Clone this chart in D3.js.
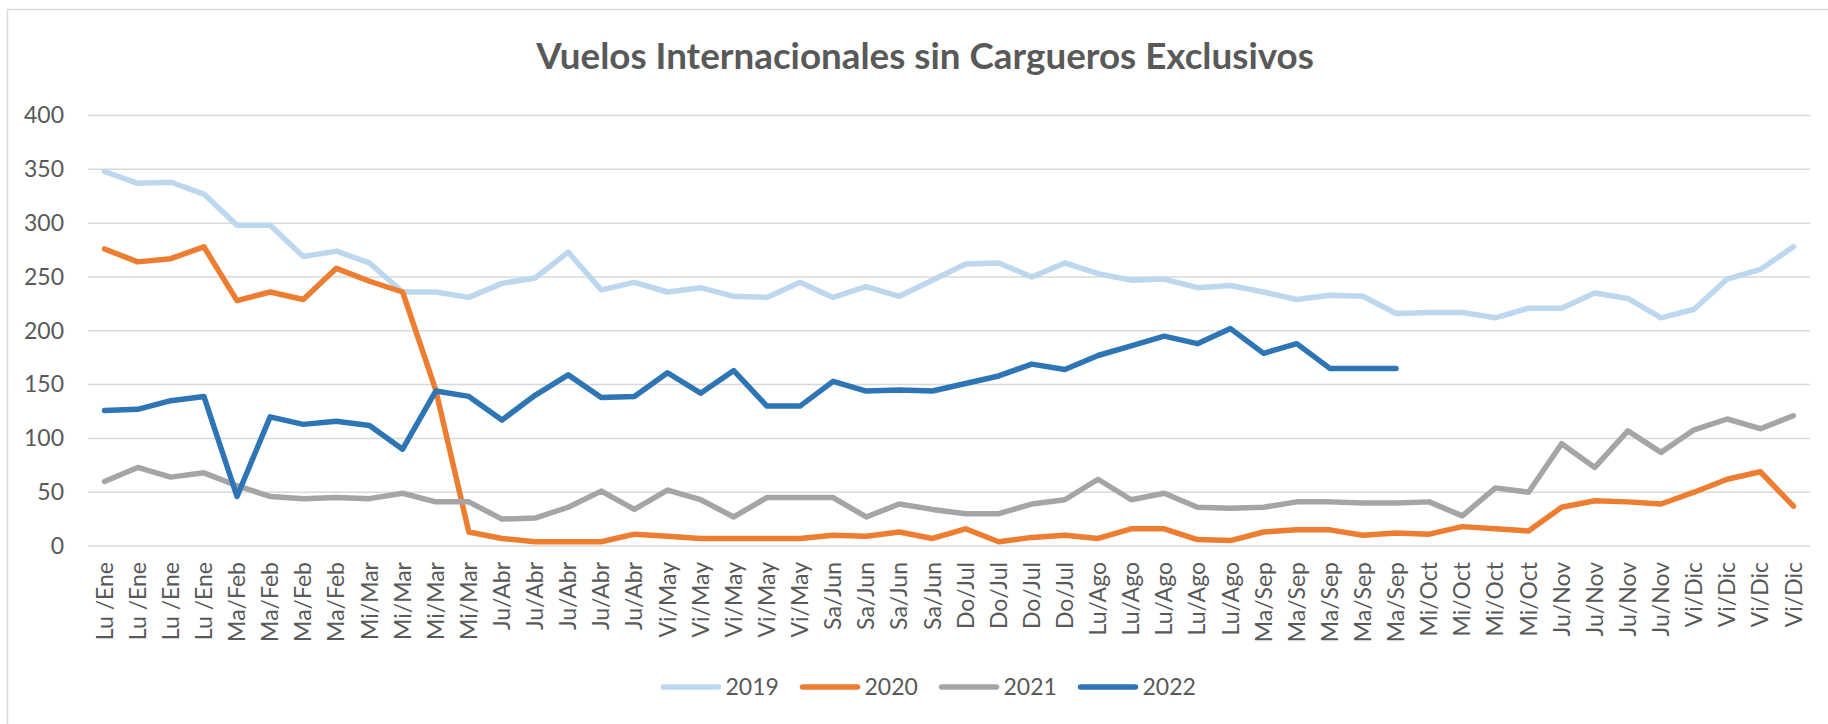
<!DOCTYPE html>
<html>
<head>
<meta charset="utf-8">
<script src="https://cdn.jsdelivr.net/npm/d3@7"></script>
<style>
  html, body { margin: 0; padding: 0; background: #fff; }
  svg { display: block; font-family: Lato, "Open Sans", sans-serif; }
</style>
</head>
<body>
<div id="chart"></div>
<script>
// Etiquetas semanales del eje X
const labels = [
  "Lu /Ene","Lu /Ene","Lu /Ene","Lu /Ene",
  "Ma/Feb","Ma/Feb","Ma/Feb","Ma/Feb",
  "Mi/Mar","Mi/Mar","Mi/Mar","Mi/Mar",
  "Ju/Abr","Ju/Abr","Ju/Abr","Ju/Abr","Ju/Abr",
  "Vi/May","Vi/May","Vi/May","Vi/May","Vi/May",
  "Sa/Jun","Sa/Jun","Sa/Jun","Sa/Jun",
  "Do/Jul","Do/Jul","Do/Jul","Do/Jul",
  "Lu/Ago","Lu/Ago","Lu/Ago","Lu/Ago","Lu/Ago",
  "Ma/Sep","Ma/Sep","Ma/Sep","Ma/Sep","Ma/Sep",
  "Mi/Oct","Mi/Oct","Mi/Oct","Mi/Oct",
  "Ju/Nov","Ju/Nov","Ju/Nov","Ju/Nov",
  "Vi/Dic","Vi/Dic","Vi/Dic","Vi/Dic"
];

const years = ["2019", "2020", "2021", "2022"];

const v2019 = [348,337,338,327,298,298,269,274,263,236,236,231,244,
  249,273,238,245,236,240,232,231,245,231,241,232,247,262,
  263,250,263,253,247,248,240,242,236,229,233,232,216,
  217,217,212,221,221,235,230,212,220,248,257,278];

const v2020 = [276,264,267,278,228,236,229,258,246,236,145,13,7,
  4,4,4,11,9,7,7,7,7,10,9,13,7,16,
  4,8,10,7,16,16,6,5,13,15,15,10,12,
  11,18,16,14,36,42,41,39,50,62,69,37];

const v2021 = [60,73,64,68,56,46,44,45,44,49,41,41,25,
  26,36,51,34,52,43,27,45,45,45,27,39,34,30,
  30,39,43,62,43,49,36,35,36,41,41,40,40,
  41,28,54,50,95,73,107,87,108,118,109,121];

const v2022 = [126,127,135,139,46,120,113,116,112,90,144,139,117,
  140,159,138,139,161,142,163,130,130,153,144,145,144,151,
  158,169,164,177,186,195,188,202,179,188,165,165,165];

const yTicks = [0, 50, 100, 150, 200, 250, 300, 350, 400];

const colors = ["#bdd7ee", "#ed7d31", "#a5a5a5", "#2e75b6"];
const series = [v2019, v2020, v2021, v2022];

const W = 1828, H = 724;
const plot = {left: 88, right: 1810, top: 115.5, bottom: 546};

const svg = d3.select("#chart").append("svg")
  .attr("width", W).attr("height", H);

// marco del gráfico
svg.append("rect")
  .attr("x", 7.5).attr("y", 9.5)
  .attr("width", W + 10).attr("height", H + 10)
  .attr("fill", "#fff").attr("stroke", "#d9d9d9").attr("stroke-width", 1.5);

const x = d3.scaleBand()
  .domain(d3.range(labels.length))
  .range([plot.left, plot.right]);
const cx = i => x(i) + x.bandwidth() / 2;

const y = d3.scaleLinear().domain([0, 400]).range([plot.bottom, plot.top]);

// líneas de cuadrícula
svg.append("g").selectAll("line")
  .data(yTicks).enter().append("line")
  .attr("x1", plot.left).attr("x2", plot.right)
  .attr("y1", d => y(d)).attr("y2", d => y(d))
  .attr("stroke", "#d9d9d9").attr("stroke-width", 1.5);

// eje Y
const yAxis = svg.append("g")
  .attr("transform", "translate(" + (plot.left - 24) + ",0)")
  .call(d3.axisLeft(y).tickValues(yTicks).tickSize(0).tickPadding(0));
yAxis.select(".domain").remove();
yAxis.selectAll("text")
  .attr("fill", "#595959").style("font-size", "23px")
  .style("font-family", "Lato, 'Open Sans', sans-serif");

// etiquetas del eje X
svg.append("g").selectAll("text")
  .data(labels).enter().append("text")
  .attr("transform", (d, i) => "translate(" + cx(i) + "," + (plot.bottom + 16) + ") rotate(-90)")
  .attr("dy", "0.35em")
  .attr("text-anchor", "end")
  .attr("fill", "#595959")
  .style("font-size", "23px")
  .text(d => d);

// series
const line = d3.line()
  .defined(d => d != null)
  .x((d, i) => cx(i))
  .y(d => y(d));

series.forEach((s, k) => {
  svg.append("path")
    .datum(s)
    .attr("fill", "none")
    .attr("stroke", colors[k])
    .attr("stroke-width", 5.5)
    .attr("stroke-linejoin", "round")
    .attr("stroke-linecap", "round")
    .attr("d", line);
});

// título
const title = svg.append("text")
  .attr("x", 925).attr("y", 69)
  .attr("text-anchor", "middle")
  .attr("fill", "#595959")
  .style("font-weight", "bold")
  .style("font-size", "36px")
  .text("Vuelos Internacionales sin Cargueros Exclusivos");
const tw = title.node().getComputedTextLength();
title.style("font-size", (36 * 778 / tw) + "px");

// leyenda
const step = 139, legY = 687;
const legStart = 928 - (3 * step + 116) / 2;
const leg = svg.append("g").selectAll("g")
  .data(years).enter().append("g")
  .attr("transform", (d, i) => "translate(" + (legStart + i * step) + "," + legY + ")");
leg.append("line")
  .attr("x1", 2).attr("x2", 57)
  .attr("stroke", (d, i) => colors[i])
  .attr("stroke-width", 5.5)
  .attr("stroke-linecap", "round");
leg.append("text")
  .attr("x", 64).attr("dy", "0.35em")
  .attr("fill", "#595959")
  .style("font-size", "23px")
  .text(d => d);
</script>
</body>
</html>
